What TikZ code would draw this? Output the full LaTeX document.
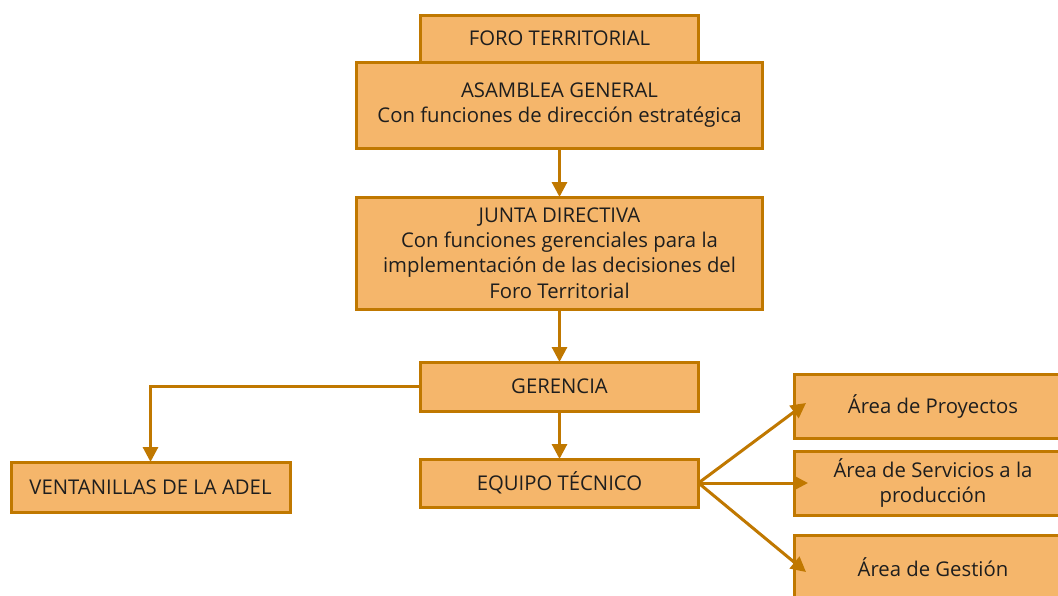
\documentclass[tikz,border=0pt]{standalone}
\usepackage{fontspec}
\setmainfont{Open Sans}
\usetikzlibrary{arrows.meta}
\definecolor{boxfill}{HTML}{F5B66B}
\definecolor{boxline}{HTML}{C07800}
\definecolor{txt}{HTML}{1E1E1E}
\begin{document}
\begin{tikzpicture}[x=1pt,y=-1pt,
  box/.style={draw=boxline, fill=boxfill, line width=3pt, align=center,
    inner sep=0pt, outer sep=0pt, text=txt,
    font=\fontsize{20.3}{25.3}\selectfont},
  arr/.style={draw=boxline, line width=3pt,
    -{Triangle[length=15pt,width=15pt]}}]
\useasboundingbox (0,0) rectangle (1058,595);
\clip (0,0) rectangle (1058,595);
\fill[white] (0,0) rectangle (1058,595);

\node[box, minimum width=278pt, minimum height=47pt] (foro) at (559.5,38.5) {FORO TERRITORIAL};
\node[box, minimum width=406pt, minimum height=86pt] (asam) at (559.5,105) {ASAMBLEA GENERAL\\Con funciones de dirección estratégica};
\node[box, minimum width=406pt, minimum height=112pt] (junta) at (559.5,253) {JUNTA DIRECTIVA\\Con funciones gerenciales para la\\implementación de las decisiones del\\Foro Territorial};
\node[box, minimum width=278pt, minimum height=49pt] (ger) at (559.5,386.5) {GERENCIA};
\node[box, minimum width=278pt, minimum height=48pt] (equipo) at (559.5,483) {EQUIPO TÉCNICO};
\node[box, minimum width=279pt, minimum height=50pt] (vent) at (150.5,487) {VENTANILLAS DE LA ADEL};
\node[box, minimum width=278pt, minimum height=64pt] (proy) at (933,406) {Área de Proyectos};
\node[box, minimum width=278pt, minimum height=64pt] (serv) at (933,483) {Área de Servicios a la\\producción};
\node[box, minimum width=278pt, minimum height=64pt] (gest) at (933,567) {Área de Gestión};

\coordinate (tproy) at (806,403);
\coordinate (tserv) at (808,483);
\coordinate (tgest) at (806,572);

\draw[arr] (asam.south) -- (junta.north);
\draw[arr] (junta.south) -- (ger.north);
\draw[arr] (ger.south) -- (equipo.north);
\draw[arr] (ger.west) -| (vent.north);
\draw[arr] (equipo.east) -- (tproy);
\draw[arr] (equipo.east) -- (tserv);
\draw[arr] (equipo.east) -- (tgest);
\end{tikzpicture}
\end{document}
